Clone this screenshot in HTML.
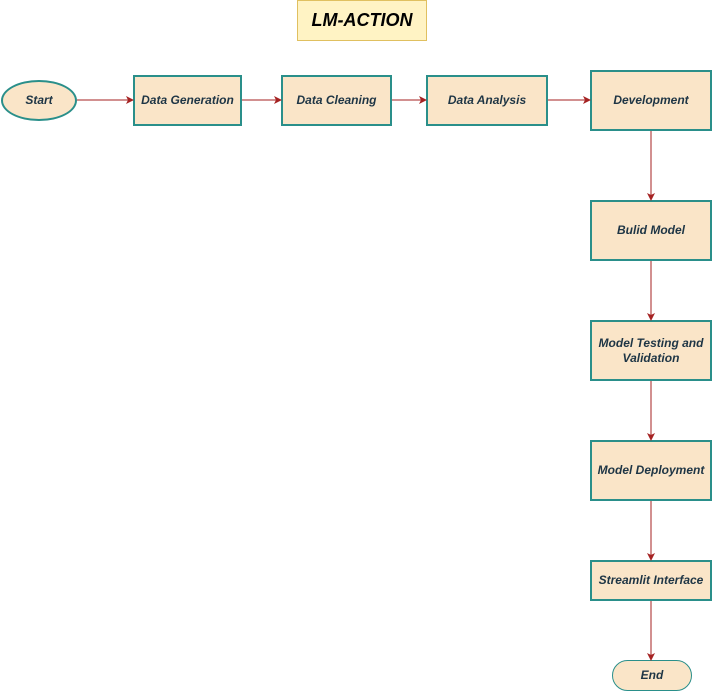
<!DOCTYPE html>
<html><head><style>
body{margin:0;width:712px;height:691px;background:#fff;position:relative;overflow:hidden;font-family:"Liberation Sans",sans-serif;}
.b{position:absolute;box-sizing:border-box;background:#fae5c8;border:2px solid #2a8f8a;display:flex;align-items:center;justify-content:center;text-align:center;font-style:italic;font-weight:bold;font-size:12px;color:#1e3545;line-height:15px;}
</style></head><body>
<div class="b" style="left:297px;top:0;width:130px;height:41px;background:#fff3c4;border:1px solid #e0c060;font-size:18px;color:#000;">LM-ACTION</div>
<div class="b" style="left:1px;top:80px;width:76px;height:41px;border-radius:50%;">Start</div>
<div class="b" style="left:133px;top:75px;width:109px;height:51px;">Data Generation</div>
<div class="b" style="left:281px;top:75px;width:111px;height:51px;">Data Cleaning</div>
<div class="b" style="left:426px;top:75px;width:122px;height:51px;">Data Analysis</div>
<div class="b" style="left:590px;top:70px;width:122px;height:61px;">Development</div>
<div class="b" style="left:590px;top:200px;width:122px;height:61px;">Bulid Model</div>
<div class="b" style="left:590px;top:320px;width:122px;height:61px;">Model Testing and<br>Validation</div>
<div class="b" style="left:590px;top:440px;width:122px;height:61px;">Model Deployment</div>
<div class="b" style="left:590px;top:560px;width:122px;height:41px;">Streamlit Interface</div>
<div class="b" style="left:612px;top:660px;width:80px;height:31px;border-radius:16px;border-width:1px;">End</div>
<svg width="712" height="691" style="position:absolute;left:0;top:0">
<defs><marker id="a" markerWidth="8" markerHeight="8" refX="7" refY="4" orient="auto" markerUnits="userSpaceOnUse"><path d="M0,0L8,4L0,8L2,4Z" fill="#a52222"/></marker></defs>
<g stroke="#a52222" stroke-width="1" fill="none" marker-end="url(#a)">
<line x1="77" y1="100" x2="133" y2="100"/>
<line x1="242" y1="100" x2="281" y2="100"/>
<line x1="392" y1="100" x2="426" y2="100"/>
<line x1="548" y1="100" x2="590" y2="100"/>
<line x1="651" y1="131" x2="651" y2="200"/>
<line x1="651" y1="261" x2="651" y2="320"/>
<line x1="651" y1="381" x2="651" y2="440"/>
<line x1="651" y1="501" x2="651" y2="560"/>
<line x1="651" y1="601" x2="651" y2="660"/>
</g></svg>
</body></html>
